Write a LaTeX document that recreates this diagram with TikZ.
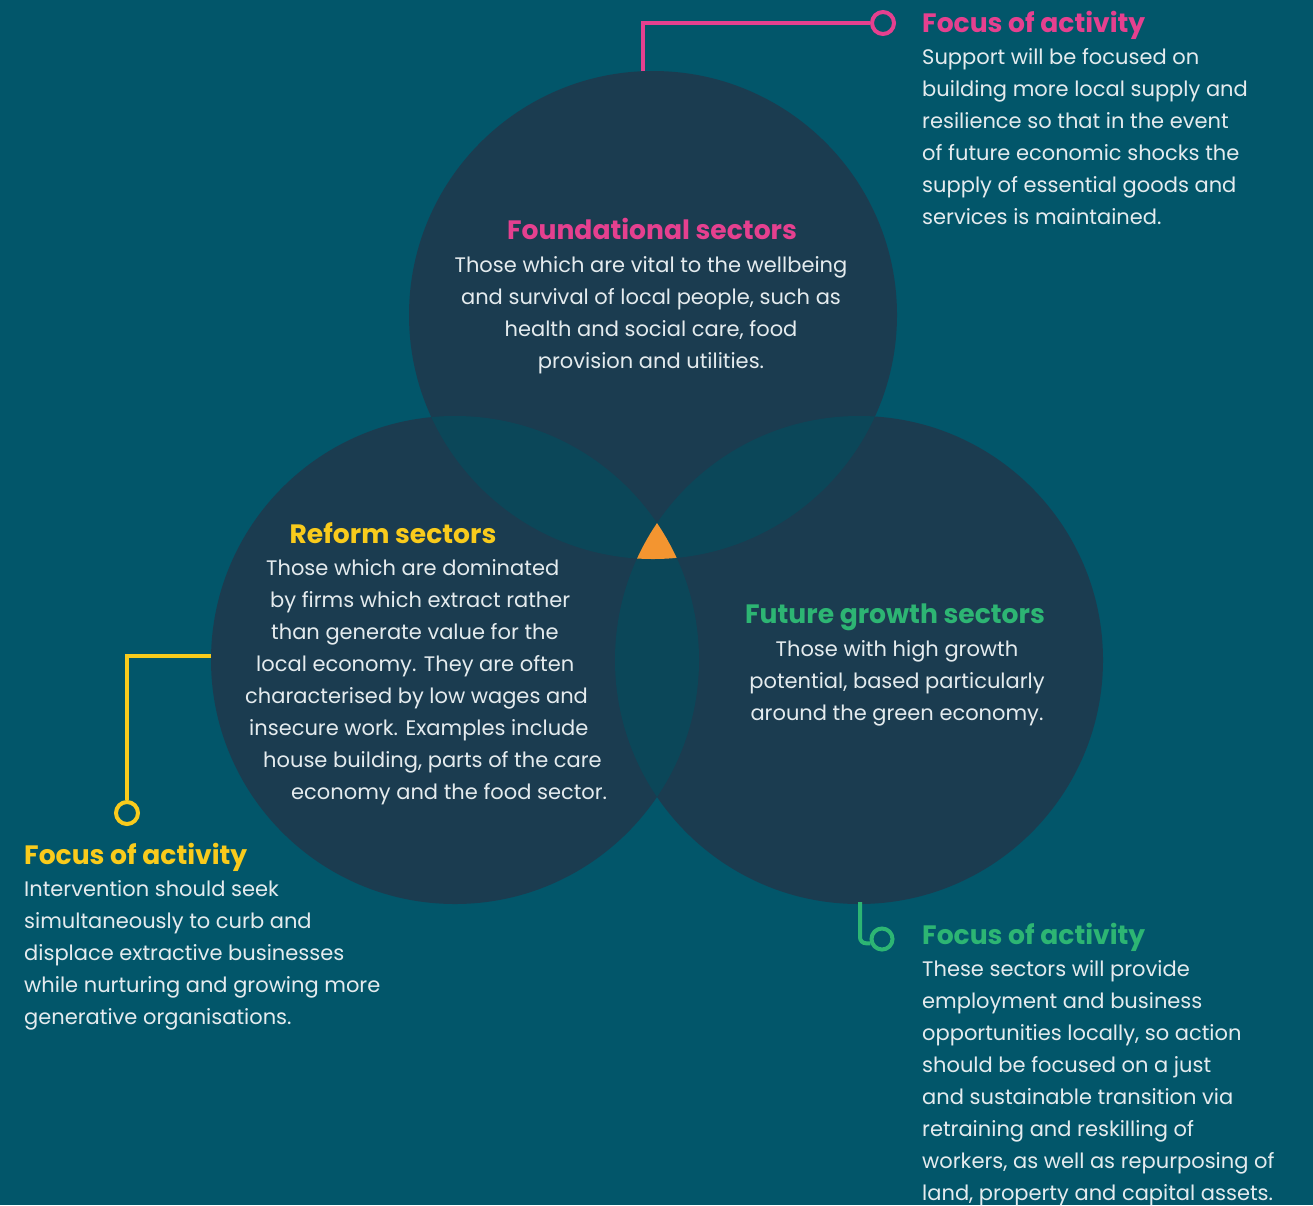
\documentclass[tikz,border=0pt]{standalone}
\usepackage{fontspec}
\setmainfont{Poppins}
\definecolor{bgc}{HTML}{02566A}
\definecolor{circc}{HTML}{1B3C50}
\definecolor{ovc}{HTML}{0B4759}
\definecolor{orng}{HTML}{F39530}
\definecolor{pinkc}{HTML}{E5408F}
\definecolor{yelc}{HTML}{F9CB1C}
\definecolor{grnc}{HTML}{2DB573}
\definecolor{txtc}{HTML}{E4EBEE}
\tikzset{
  body/.style={text=txtc, font=\fontsize{21}{32}\selectfont, inner sep=0pt},
  ttl/.style={font=\fontsize{26.6}{32}\selectfont\bfseries, inner sep=0pt},
  conn/.style={line width=4pt},
}
\begin{document}
\begin{tikzpicture}[x=1pt,y=-1pt]
\useasboundingbox (0,0) rectangle (1313,1205);
\fill[bgc] (0,0) rectangle (1313,1205);
% circles
\fill[circc] (653,315) circle[radius=244pt];
\fill[circc] (455,660) circle[radius=244pt];
\fill[circc] (859,660) circle[radius=244pt];
\begin{scope}
  \clip (653,315) circle[radius=244pt];
  \fill[ovc] (455,660) circle[radius=244pt];
  \fill[ovc] (859,660) circle[radius=244pt];
\end{scope}
\begin{scope}
  \clip (455,660) circle[radius=244pt];
  \fill[ovc] (859,660) circle[radius=244pt];
\end{scope}
\begin{scope}
  \clip (653,315) circle[radius=244pt];
  \clip (455,660) circle[radius=244pt];
  \fill[orng] (859,660) circle[radius=244pt];
\end{scope}
% anchor coordinates
\coordinate (ctop) at (643,71);
\coordinate (cleft) at (211,656);
\coordinate (cbot) at (860,902);
% connectors
\node[circle, draw=pinkc, line width=4pt, minimum size=22pt, inner sep=0pt] (rp) at (883,23) {};
\draw[conn, pinkc] (ctop) |- (rp.west);
\node[circle, draw=yelc, line width=4pt, minimum size=22pt, inner sep=0pt] (ry) at (127,813) {};
\draw[conn, yelc] (cleft) -| (ry.north);
\node[circle, draw=grnc, line width=4pt, minimum size=21pt, inner sep=0pt] (rg) at (882,939) {};
\draw[conn, grnc, rounded corners=6pt] (cbot) |- (rg.200);
% top-right text
\node[ttl, text=pinkc, anchor=base west] (t1) at (922,32) {Focus of activity};
\foreach \t [count=\i] in {Support will be focused on, building more local supply and, resilience so that in the event, of future economic shocks the, supply of essential goods and, services is maintained.}
  \node[body, anchor=base west] (a\i) at (922,{64+32*(\i-1)}) {\t};
% foundational
\node[ttl, text=pinkc, anchor=base] (t2) at (652,239) {Foundational sectors};
\foreach \t [count=\i] in {Those which are vital to the wellbeing, {and survival of local people, such as}, {health and social care, food}, provision and utilities.}
  \node[body, anchor=base] (b\i) at (651,{272+32*(\i-1)}) {\t};
% reform
\node[ttl, text=yelc, anchor=base] (t3) at (393,543) {Reform sectors};
\foreach \t/\xx [count=\i] in {Those which are dominated/266, by firms which extract rather/270, than generate value for the/271, local economy. They are often/256, characterised by low wages and/245, insecure work. Examples include/249, {house building, parts of the care}/263, economy and the food sector./291}
  \node[body, anchor=base west] (c\i) at (\xx,{575+32*(\i-1)}) {\t};
% future growth
\node[ttl, text=grnc, anchor=base] (t4) at (895,623) {Future growth sectors};
\foreach \t [count=\i] in {Those with high growth, {potential, based particularly}, around the green economy.}
  \node[body, anchor=base] (d\i) at (897,{656+32*(\i-1)}) {\t};
% left focus
\node[ttl, text=yelc, anchor=base west] (t5) at (24,864) {Focus of activity};
\foreach \t [count=\i] in {Intervention should seek, simultaneously to curb and, displace extractive businesses, while nurturing and growing more, generative organisations.}
  \node[body, anchor=base west] (e\i) at (24,{896+32*(\i-1)}) {\t};
% bottom-right focus
\node[ttl, text=grnc, anchor=base west] (t6) at (922,944) {Focus of activity};
\foreach \t [count=\i] in {These sectors will provide, employment and business, {opportunities locally, so action}, should be focused on a just, and sustainable transition via, retraining and reskilling of, {workers, as well as repurposing of}, {land, property and capital assets.}}
  \node[body, anchor=base west] (f\i) at (922,{976+32*(\i-1)}) {\t};
\end{tikzpicture}
\end{document}
